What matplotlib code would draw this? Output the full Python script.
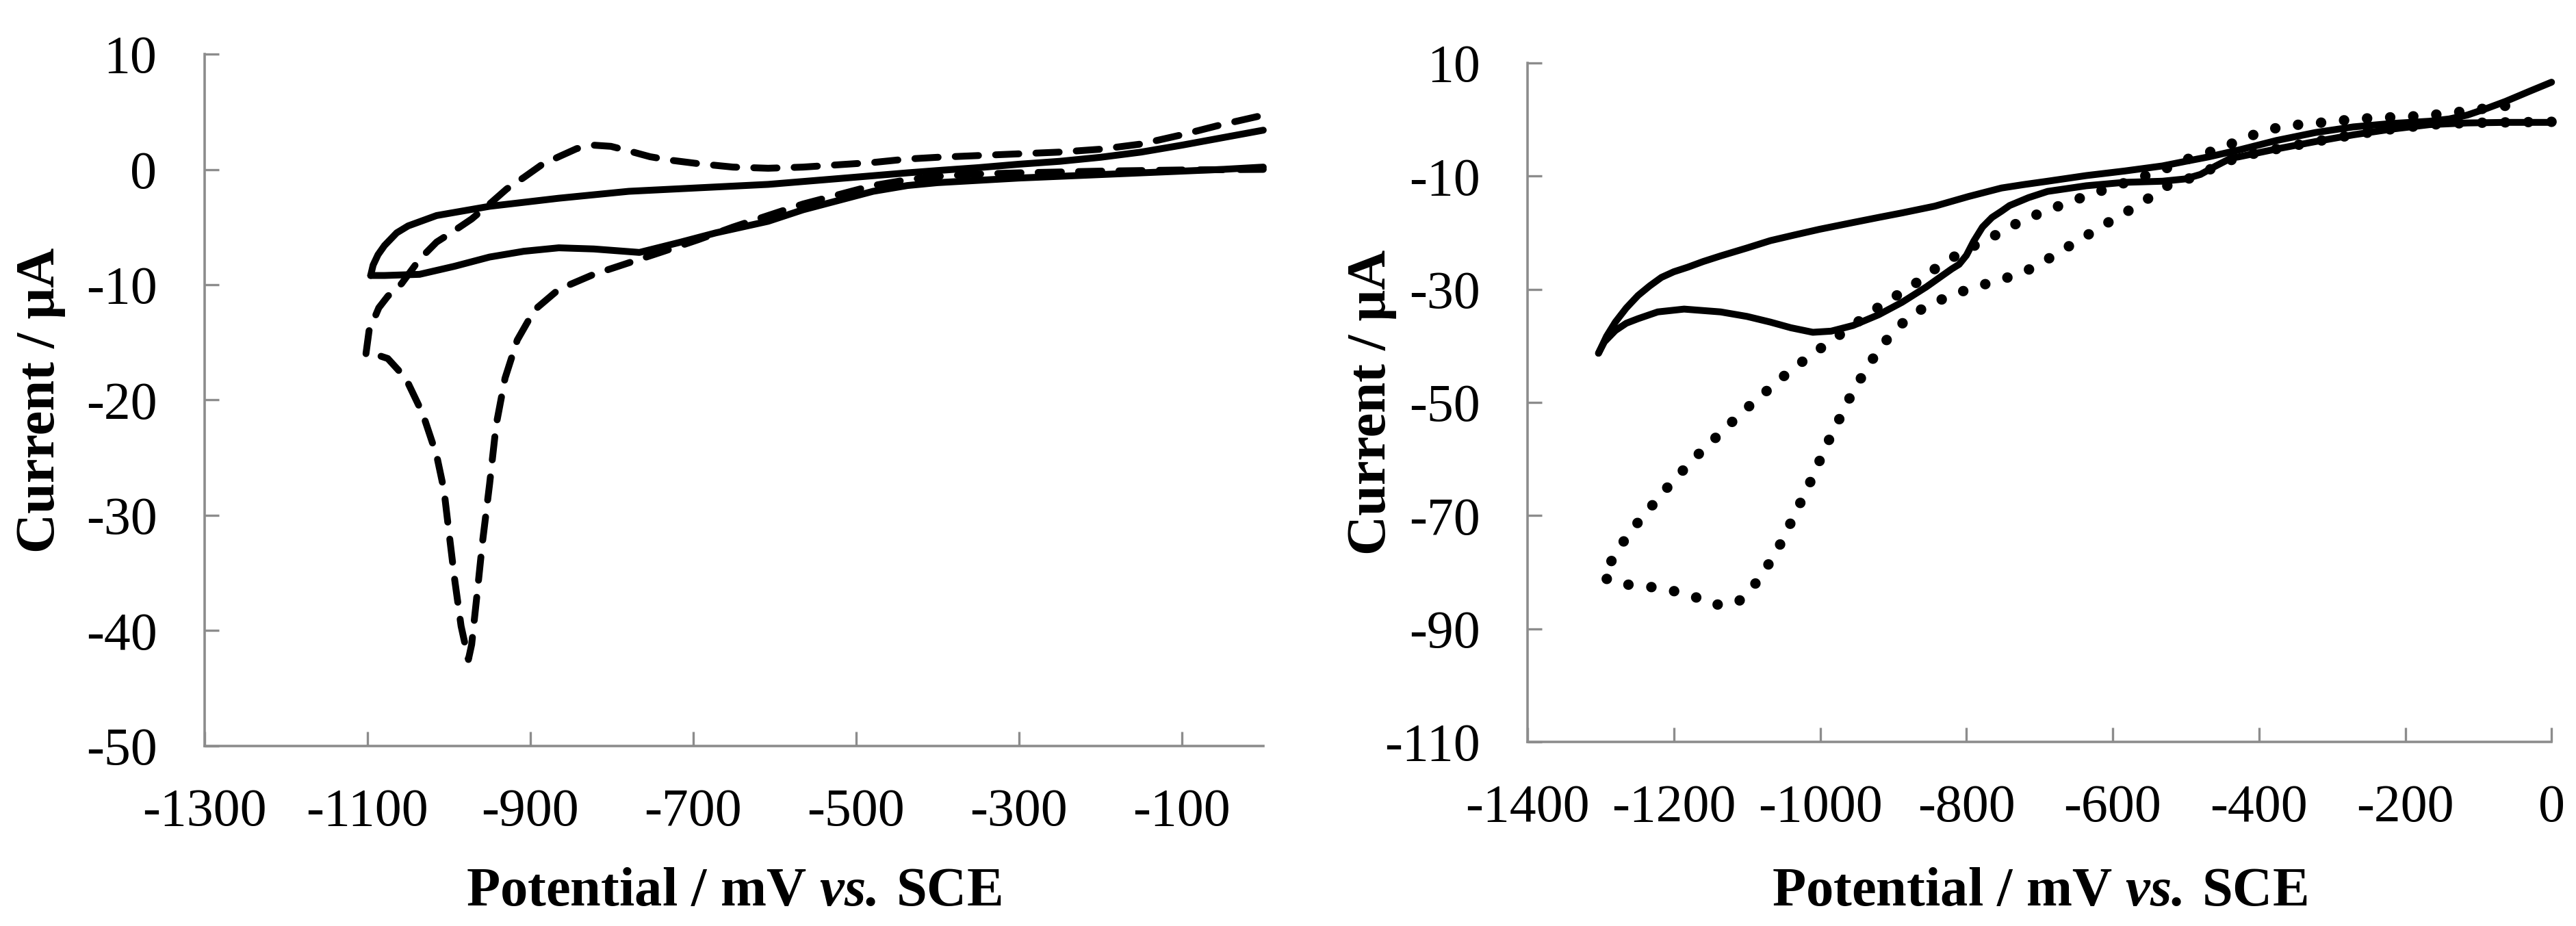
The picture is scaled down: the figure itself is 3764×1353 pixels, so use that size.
import matplotlib
matplotlib.use("Agg")
import matplotlib.pyplot as plt

# Cyclic voltammograms, two panels. Potential in mV vs. SCE, current in uA.

# Left panel, solid loop (cathodic branch then anodic return)
L_SOLID_CATH_X = [0, -50, -100, -150, -200, -250, -300, -350, -400, -437, -479, -522, -565,
                  -608, -672, -715, -766, -822, -865, -908, -950, -993, -1036, -1079, -1096]
L_SOLID_CATH_Y = [0.2, 0.0, -0.15, -0.3, -0.45, -0.6, -0.75, -0.95, -1.15, -1.4, -1.9, -2.7, -3.5,
                  -4.5, -5.5, -6.3, -7.2, -6.9, -6.8, -7.1, -7.6, -8.4, -9.1, -9.2, -9.2]
L_SOLID_AN_X = [-1096, -1093, -1087, -1079, -1064, -1050, -1015, -950, -865, -779, -694, -608,
                -522, -437, -400, -350, -300, -250, -200, -150, -100, -50, 0]
L_SOLID_AN_Y = [-9.2, -8.3, -7.4, -6.6, -5.5, -4.9, -4.0, -3.2, -2.5, -1.9, -1.6, -1.3,
                -0.8, -0.3, -0.1, 0.15, 0.45, 0.7, 1.05, 1.5, 2.1, 2.75, 3.4]

# Left panel, dashed loop
L_DASH_X = [0, -100, -200, -300, -350, -400, -437, -479, -522, -565, -608, -651, -694, -736,
            -779, -822, -865, -895, -916, -931, -942, -950, -959, -965, -972, -976,
            -985, -993, -1000, -1006, -1015, -1032, -1053, -1075, -1092, -1102,
            -1098, -1086, -1075, -1058, -1036, -1015, -993, -972, -950, -929, -908, -886,
            -865, -843, -822, -801, -779, -753, -728, -694, -651, -608, -565, -522, -479,
            -437, -400, -350, -300, -250, -200, -150, -100, -50, 0]
L_DASH_Y = [0.0, -0.05, -0.15, -0.3, -0.4, -0.6, -0.9, -1.4, -2.2, -3.0, -4.0, -5.0, -6.1, -7.1,
            -8.1, -9.1, -10.4, -12.2, -14.8, -18.1, -22.2, -27.3, -32.5, -36.6, -41.2, -42.5,
            -39.6, -35.5, -31.4, -27.8, -24.8, -21.2, -18.1, -16.4, -16.0, -16.1,
            -14.0, -12.0, -11.0, -9.9, -7.8, -6.3, -5.3, -4.3, -3.0, -1.7, -0.7, 0.4,
            1.1, 1.8, 2.1, 2.0, 1.6, 1.1, 0.8, 0.5, 0.2, 0.1, 0.2, 0.4, 0.6,
            0.9, 1.05, 1.2, 1.35, 1.5, 1.75, 2.2, 3.0, 3.9, 4.7]

# Right panel, solid loop (outer and inner branch)
R_SOLID_A_X = [-1303, -1292, -1280, -1265, -1249, -1233, -1217, -1200, -1181, -1160, -1136, -1100,
               -1068, -1035, -1001, -955, -920, -888, -843, -797, -752, -722, -689, -636, -584,
               -532, -501, -469, -428, -376, -323, -271, -219, -167, -140, -115, -90, -63, -30, 0]
R_SOLID_A_Y = [-41.3, -38.3, -35.8, -33.3, -31.1, -29.4, -27.9, -26.9, -26.1, -25.1, -24.1, -22.7,
               -21.4, -20.4, -19.4, -18.2, -17.3, -16.5, -15.3, -13.6, -12.1, -11.5, -10.9, -9.9, -9.1,
               -8.2, -7.4, -6.6, -5.4, -3.7, -2.3, -1.3, -0.7, -0.3, 0.1, 0.8, 1.9, 3.2, 5.0, 6.6]
R_SOLID_B_X = [-1303, -1295, -1280, -1265, -1249, -1222, -1186, -1136, -1100, -1068, -1040, -1010,
               -985, -955, -920, -888, -855, -820, -810, -800, -790, -778, -765, -752, -741, -715,
               -689, -636, -584, -532, -501, -480, -459, -438, -428, -376, -323, -271, -219, -167,
               -115, -63, 0]
R_SOLID_B_Y = [-41.3, -39.3, -37.3, -36.0, -35.2, -34.0, -33.5, -34.0, -34.8, -35.8, -36.8, -37.6,
               -37.4, -36.4, -34.5, -32.3, -29.6, -26.4, -25.6, -24.0, -21.5, -19.0, -17.3, -16.2,
               -15.2, -13.8, -12.7, -11.7, -11.1, -10.9, -10.5, -9.7, -8.2, -6.8, -6.6, -5.2, -3.9,
               -2.7, -1.7, -0.9, -0.6, -0.5, -0.5]

# Right panel, dotted loop
R_DOT_X = [0, -63, -115, -167, -219, -271, -323, -376, -428, -460, -490, -523, -552, -582, -613,
           -643, -673, -704, -725, -757, -789, -821, -854, -882, -907, -928, -946, -963, -978,
           -994, -1007, -1022, -1037, -1052, -1070, -1089, -1113, -1147, -1179, -1213, -1247,
           -1280, -1298, -1280, -1261, -1239, -1217, -1194, -1170, -1145, -1120, -1094, -1068,
           -1041, -1014, -985, -956, -929, -899, -871, -843, -815, -782, -752, -725, -700, -668,
           -634, -600, -563, -530, -498, -464, -430, -396, -363, -326, -290, -253, -219, -183,
           -146, -112, -76, -42]
R_DOT_Y = [-0.4, -0.5, -0.6, -0.9, -1.7, -2.7, -3.9, -5.2, -6.6, -8.4, -10.2, -11.5, -14.0, -16.4,
           -18.7, -21.1, -23.4, -25.9, -27.1, -28.5, -29.6, -31.1, -32.9, -35.3, -38.6, -42.3,
           -46.1, -50.0, -54.1, -58.2, -62.3, -66.4, -70.4, -74.5, -78.5, -82.1, -85.4, -85.8,
           -83.9, -83.0, -82.3, -82.1, -80.7, -76.9, -73.0, -69.7, -66.2, -62.9, -59.6, -56.5,
           -53.4, -50.3, -47.4, -44.4, -41.8, -39.1, -36.5, -33.9, -31.4, -29.1, -26.4, -24.1,
           -21.8, -19.9, -17.9, -16.6, -15.0, -13.4, -11.9, -10.3, -8.8, -7.0, -5.6, -3.9, -2.1,
           -1.1, -0.7, -0.2, 0.2, 0.4, 0.6, 1.0, 1.6, 2.2, 2.8]

L_XTICKS = list(range(-1300, 0, 200))
L_YTICKS = list(range(-50, 11, 10))
R_XTICKS = list(range(-1400, 1, 200))
R_YTICKS = list(range(-110, 11, 20))

XLABEL = "Potential / mV $\\mathbfit{vs.}\\:$SCE"
YLABEL = "Current / \u03bcA"

plt.rcParams["font.family"] = ["Liberation Serif", "DejaVu Serif"]
plt.rcParams["mathtext.fontset"] = "custom"
plt.rcParams["mathtext.rm"] = "Liberation Serif"
plt.rcParams["mathtext.bf"] = "Liberation Serif:bold"
plt.rcParams["mathtext.it"] = "Liberation Serif:italic"
plt.rcParams["mathtext.bfit"] = "Liberation Serif:bold:italic"
plt.rcParams["axes.unicode_minus"] = False

GRAY = "#8c8c8c"
LW = 7.2


def style_axes(ax, xlim, ylim, xticks, yticks, ylab_x, xlab_y):
    ax.set_xlim(*xlim)
    ax.set_ylim(*ylim)
    ax.set_xticks(xticks)
    ax.set_yticks(yticks)
    for side in ("top", "right"):
        ax.spines[side].set_visible(False)
    for side in ("left", "bottom"):
        ax.spines[side].set_color(GRAY)
        ax.spines[side].set_linewidth(2.6)
    ax.tick_params(axis="both", direction="in", length=15, width=2.4, color=GRAY,
                   labelsize=56, pad=50)
    ax.tick_params(axis="x", pad=44)
    ax.set_xlabel(XLABEL, fontsize=58, fontweight="bold")
    ax.set_ylabel(YLABEL, fontsize=58, fontweight="bold")
    ax.xaxis.set_label_coords(0.5, xlab_y)
    ax.xaxis.label.set_va("center")
    ax.yaxis.set_label_coords(ylab_x, 0.5)
    ax.yaxis.label.set_va("center")


fig = plt.figure(figsize=(37.64, 13.53), dpi=100)
ax1 = fig.add_axes([0.0794, 0.1944, 0.411, 0.7472])
ax2 = fig.add_axes([0.593, 0.1988, 0.3975, 0.7332])

# left panel
ax1.plot(L_DASH_X, L_DASH_Y, color="black", lw=LW, linestyle=(0, (3.4, 2.5)),
         dash_capstyle="round", solid_joinstyle="round", clip_on=False)
ax1.plot(L_SOLID_CATH_X, L_SOLID_CATH_Y, color="black", lw=LW, solid_capstyle="round",
         solid_joinstyle="round", clip_on=False)
ax1.plot(L_SOLID_AN_X, L_SOLID_AN_Y, color="black", lw=LW, solid_capstyle="round",
         solid_joinstyle="round", clip_on=False)
style_axes(ax1, (-1300, 0), (-50, 10), L_XTICKS, L_YTICKS, -0.155, -0.211)

# right panel
ax2.plot(R_DOT_X, R_DOT_Y, color="black", lw=11, linestyle=(0, (0.01, 2.2)),
         dash_capstyle="round", clip_on=False)
ax2.plot(R_SOLID_A_X, R_SOLID_A_Y, color="black", lw=LW, solid_capstyle="round",
         solid_joinstyle="round", clip_on=False)
ax2.plot(R_SOLID_B_X, R_SOLID_B_Y, color="black", lw=LW, solid_capstyle="round",
         solid_joinstyle="round", clip_on=False)
style_axes(ax2, (-1400, 0), (-110, 10), R_XTICKS, R_YTICKS, -0.152, -0.221)

fig.savefig("out.png", dpi=100)
